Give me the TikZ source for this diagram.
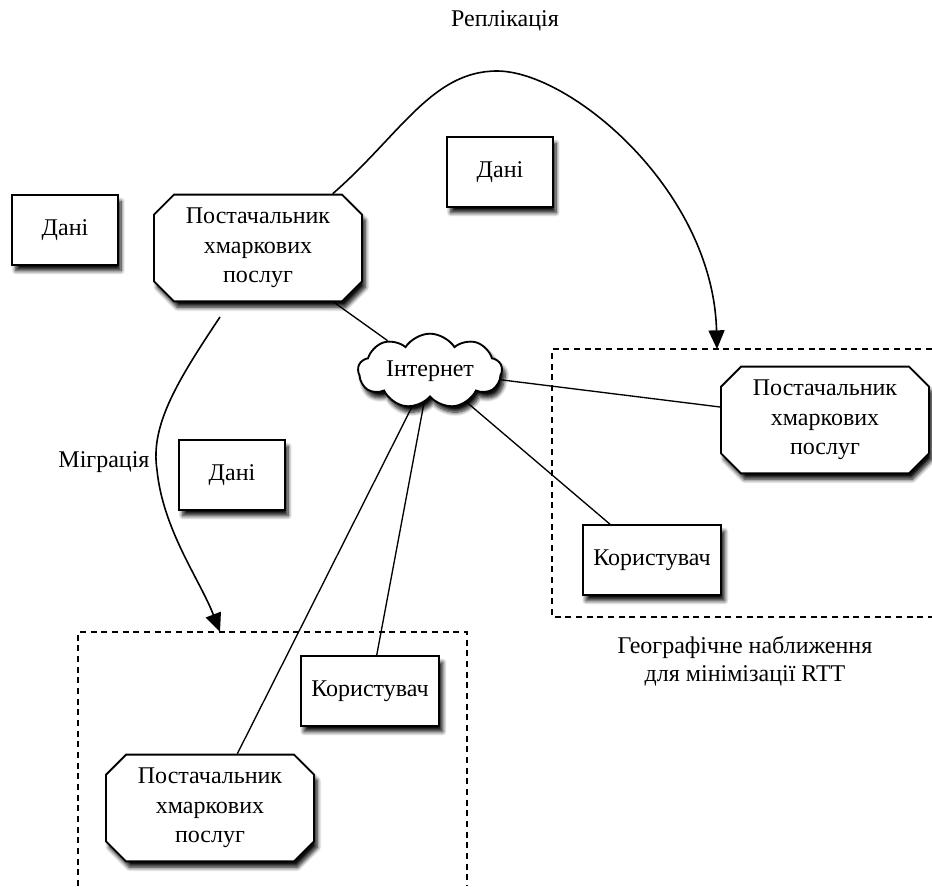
\documentclass[tikz,border=0pt]{standalone}
\usepackage{fontspec}
\setmainfont{Liberation Serif}
\usetikzlibrary{shapes.misc,shapes.symbols,arrows.meta,shadows.blur}
\begin{document}
\begin{tikzpicture}[x=0.75pt,y=-0.75pt,
  txt/.style={font=\fontsize{18}{22}\selectfont, align=center},
  base/.style={txt, line width=1.4pt, draw=black, fill=white, inner sep=0pt,
    blur shadow={shadow xshift=2.5pt, shadow yshift=-4.5pt, shadow blur steps=8, shadow blur radius=3pt, shadow opacity=95}},
  provider/.style={base, chamfered rectangle, chamfered rectangle xsep=7.5pt,
    chamfered rectangle ysep=7.5pt, minimum width=156pt, minimum height=80pt},
  databox/.style={base, rectangle, minimum width=79pt, minimum height=52pt},
  userbox/.style={base, rectangle, minimum width=104pt, minimum height=52pt},
  netcloud/.style={base, cloud, cloud puffs=9, cloud puff arc=115, cloud ignores aspect, minimum width=108pt, minimum height=56pt},
  link/.style={line width=1pt},
  flow/.style={line width=1.2pt, -{Triangle[length=14pt,width=12pt]}},
  group/.style={line width=1pt, dash pattern=on 4.5pt off 3.5pt}
]
\useasboundingbox (0,0) rectangle (932,886);

% group regions
\draw[group] (932,349) -- (552,349) -- (552,617) -- (932,617);
\draw[group] (78,886) -- (78,632) -- (467,632) -- (467,886);

\coordinate (c1) at (430,371);
\coordinate (p1) at (258,248);
\coordinate (p2) at (825,420);
\coordinate (p3) at (210,808);
\coordinate (u1) at (652,560);
\coordinate (u2) at (370,691);

\node[netcloud] (cloud) at (c1) {Інтернет};
\node[provider] (prov1) at (p1) {Постачальник\\хмаркових\\послуг};
\node[provider] (prov2) at (p2) {Постачальник\\хмаркових\\послуг};
\node[provider] (prov3) at (p3) {Постачальник\\хмаркових\\послуг};
\node[userbox] (user1) at (u1) {Користувач};
\node[userbox] (user2) at (u2) {Користувач};
\node[databox] (data1) at (65,230) {Дані};
\node[databox] (data2) at (500,172) {Дані};
\node[databox] (data3) at (232,475) {Дані};

\draw[link] (prov1) -- (cloud);
\draw[link] (cloud) -- (prov2);
\draw[link] (cloud) -- (user1);
\draw[link] (cloud) -- (user2);
\draw[link] (cloud) -- (prov3);

% replication and migration
\coordinate (reptip) at (717,349);
\coordinate (migstart) at (220,317);
\coordinate (migtip) at (220,632);
\draw[flow] (prov1.36) .. controls (400,135) and (432,71) .. (497,71)
  .. controls (570,71) and (713,190) .. (reptip);
\draw[flow] (migstart) .. controls (178,380) and (150,425) .. (157,470)
  .. controls (163,530) and (200,580) .. (migtip);

% labels
\node[txt] (lrep) at (505,21) {Реплікація};
\node[txt] (lmig) at (104,462) {Міграція};
\node[txt, font=\fontsize{18}{21}\selectfont] (lgeo) at (745,661) {Географічне наближення\\для мінімізації RTT};
\end{tikzpicture}
\end{document}
